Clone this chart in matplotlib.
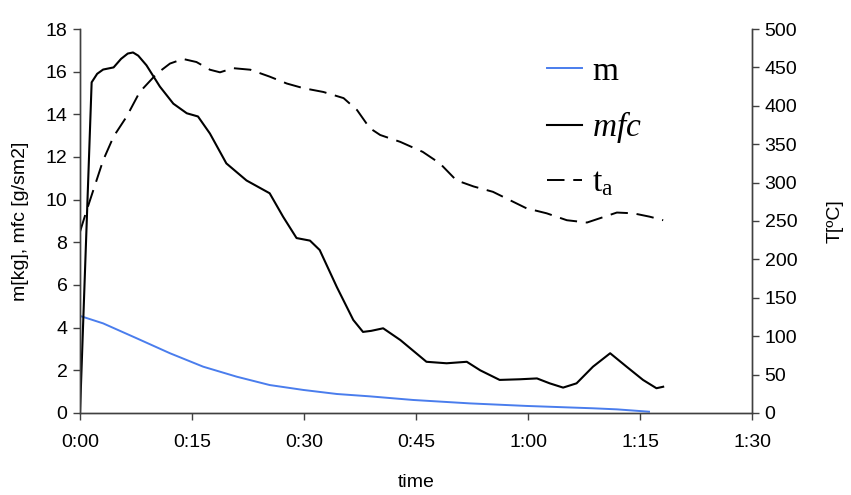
import matplotlib
matplotlib.use("Agg")
import matplotlib.pyplot as plt
from matplotlib.ticker import FuncFormatter, MultipleLocator

# time in minutes
m_time = [0, 3.1, 7.6, 12.05, 16.5, 21.0, 25.4, 29.9, 34.4, 38.8, 44.6, 52.2,
          59.8, 68.7, 71.9, 76.2]
m_kg = [4.55, 4.2, 3.5, 2.8, 2.17, 1.70, 1.31, 1.08, 0.89, 0.78, 0.61, 0.45,
        0.33, 0.22, 0.17, 0.06]

mfc_time = [0, 1.56, 2.3, 3.1, 4.5, 5.5, 6.4, 7.1, 7.8, 8.9, 10.7, 12.5, 14.3,
            15.8, 17.4, 19.6, 22.3, 25.4, 27.2, 29.0, 30.8, 32.1, 34.4, 36.6,
            37.9, 39.0, 40.6, 42.9, 46.4, 49.1, 51.8, 53.6, 56.2, 58.9, 61.2,
            62.9, 64.7, 66.5, 68.7, 71.0, 73.2, 75.4, 77.2, 78.1]
mfc = [0, 15.5, 15.9, 16.1, 16.2, 16.6, 16.85, 16.9, 16.75, 16.3, 15.3, 14.5,
       14.05, 13.9, 13.1, 11.7, 10.9, 10.3, 9.2, 8.2, 8.08, 7.64, 5.9, 4.36,
       3.8, 3.85, 3.97, 3.42, 2.4, 2.33, 2.4, 2.0, 1.55, 1.58, 1.62, 1.39,
       1.19, 1.39, 2.17, 2.8, 2.17, 1.55, 1.16, 1.23]

ta_time = [0, 0.9, 3.1, 4.5, 6.25, 8.0, 10.3, 12.05, 13.8, 15.6, 17.4, 18.75,
           20.5, 22.8, 25.4, 27.7, 29.9, 32.6, 35.3, 37.1, 38.8, 40.2, 42.9,
           45.9, 48.2, 50.4, 52.7, 55.3, 57.6, 59.8, 62.5, 65.2, 67.9, 69.6,
           71.9, 74.1, 76.3, 78.1]
ta = [236, 264, 329, 360, 386, 418, 442, 455, 461, 457, 447, 443.6, 449, 447,
      438, 429, 423, 418, 410, 394.5, 371, 362, 353, 340, 325, 303, 295, 288,
      277, 266.5, 260, 251, 248, 253.5, 261, 260, 255.6, 251]

x_ticks = [0, 15, 30, 45, 60, 75, 90]

plt.rcParams["font.family"] = ["Liberation Sans", "DejaVu Sans"]
plt.rcParams["mathtext.fontset"] = "custom"
plt.rcParams["mathtext.rm"] = "Liberation Serif"
plt.rcParams["mathtext.it"] = "Liberation Serif:italic"

SPINE = "#404040"

fig = plt.figure(figsize=(8.51, 4.95), dpi=100)
ax = fig.add_axes([0.094, 0.1657, 0.7897, 0.7757])
ax2 = ax.twinx()

line_m, = ax.plot(m_time, m_kg, color="#4a7ded", lw=1.4, label="m")
line_mfc, = ax.plot(mfc_time, mfc, color="black", lw=1.5, label=r"$mfc$")
line_ta, = ax2.plot(ta_time, ta, color="black", lw=1.4,
                    linestyle=(0, (9, 4.5)), label=r"$\mathrm{t}_{\mathrm{a}}$")

ax.set_xlim(0, 90)
ax.set_ylim(0, 18)
ax2.set_ylim(0, 500)
ax.set_xticks(x_ticks)
ax.xaxis.set_major_formatter(FuncFormatter(lambda v, _: f"{int(v) // 60}:{int(v) % 60:02d}"))
ax.yaxis.set_major_locator(MultipleLocator(2))
ax2.yaxis.set_major_locator(MultipleLocator(50))

for a in (ax, ax2):
    a.spines["top"].set_visible(False)
    for s in ("left", "right", "bottom"):
        a.spines[s].set_color(SPINE)
        a.spines[s].set_linewidth(1.0)
    a.tick_params(direction="out", length=5, width=1.0, color=SPINE,
                  labelsize=14, pad=4)
ax.tick_params(axis="x", pad=10)

ax.set_xlabel("time", fontsize=14, labelpad=17)
ax.set_ylabel("m[kg], mfc [g/sm2]", fontsize=14, labelpad=12)
ax2.set_ylabel("T[ºC]", fontsize=14, labelpad=21)

leg = ax2.legend(handles=[line_m, line_mfc, line_ta], loc="upper left",
                 bbox_to_anchor=(0.695, 0.929), frameon=False, fontsize=24,
                 handlelength=1.05, handletextpad=0.3, labelspacing=0.68,
                 borderpad=0, borderaxespad=0)
for t in leg.get_texts():
    t.set_family("Liberation Serif")

fig.savefig("out.png", dpi=100)
